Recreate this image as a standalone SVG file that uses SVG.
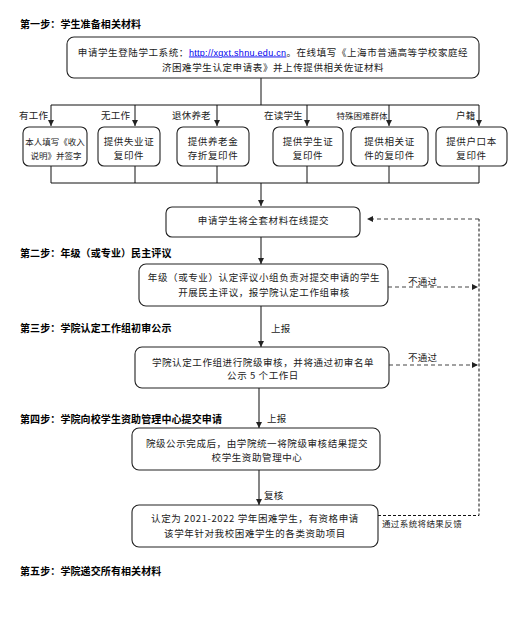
<svg xmlns="http://www.w3.org/2000/svg" width="528" height="618" viewBox="0 0 528 618">
<defs>
<style>
text{font-family:"Noto Sans CJK SC","Noto Sans",sans-serif;fill:#222}
.t{font-size:10px;font-weight:bold;fill:#000;letter-spacing:0.1px}
.b{font-size:9.5px;letter-spacing:0.6px;text-anchor:middle}
.s{font-size:8.5px;text-anchor:middle}
.l{font-size:9.5px;letter-spacing:0.2px}
.u{font-family:"Liberation Sans",Arial,sans-serif;font-size:9px;letter-spacing:0.3px;fill:#0000ee;text-decoration:underline}
.box{fill:#fff;stroke:#222;stroke-width:1.1}
.ln{fill:none;stroke:#111;stroke-width:1}
.ar{fill:none;stroke:#444;stroke-width:1.3}
.dash{fill:none;stroke:#444;stroke-width:1.2;stroke-dasharray:4 3}
.dash2{fill:none;stroke:#111;stroke-width:1;stroke-dasharray:3 2}
</style>
<marker id="ah" viewBox="0 0 6 6" markerWidth="6" markerHeight="6" refX="6" refY="3" orient="auto" markerUnits="userSpaceOnUse"><path d="M0,0L6,3L0,6z" fill="#222"/></marker>
</defs>
<rect width="528" height="618" fill="#fff"/>

<g id="titles">
<text class="t" x="20" y="27.5">第一步：学生准备相关材料</text>
<text class="t" x="20" y="256.5">第二步：年级（或专业）民主评议</text>
<text class="t" x="20" y="332">第三步：学院认定工作组初审公示</text>
<text class="t" x="20" y="422.5">第四步：学院向校学生资助管理中心提交申请</text>
<text class="t" x="20" y="574.5">第五步：学院递交所有相关材料</text>
</g>

<g id="connectors">
<path class="ln" d="M261,78V105M51,105H479"/>
<path class="ln" d="M51,105V126" marker-end="url(#ah)"/>
<path class="ln" d="M135,105V126" marker-end="url(#ah)"/>
<path class="ln" d="M217,105V126" marker-end="url(#ah)"/>
<path class="ln" d="M307,105V126" marker-end="url(#ah)"/>
<path class="ln" d="M389,105V126" marker-end="url(#ah)"/>
<path class="ln" d="M479,105V126" marker-end="url(#ah)"/>
<path class="ln" d="M51,166V183M135,166V183M217,166V183M307,166V183M389,166V183M479,166V183M51,183H479"/>
<path class="ln" d="M261,183V206" marker-end="url(#ah)"/>
<path class="ar" d="M261,237V264" marker-end="url(#ah)"/>
<path class="ar" d="M261,306V347" marker-end="url(#ah)"/>
<path class="ar" d="M259,388V428" marker-end="url(#ah)"/>
<path class="ar" d="M259,470V505" marker-end="url(#ah)"/>
<path class="dash" d="M388,287H478" marker-end="url(#ah)"/>
<path class="dash" d="M389,365H478" marker-end="url(#ah)"/>
<path class="dash2" d="M378,515.5H479V219"/>
<path class="dash" d="M479,219H367" marker-end="url(#ah)"/>
<text class="l" x="19" y="119">有工作</text>
<text class="l" x="101" y="119">无工作</text>
<text class="l" x="172" y="119">退休养老</text>
<text class="l" x="264" y="119">在读学生</text>
<text class="s" x="362" y="119">特殊困难群体</text>
<text class="l" x="456" y="119">户籍</text>
<text class="l" x="271" y="331.5">上报</text>
<text class="l" x="267" y="421.5">上报</text>
<text class="l" x="264" y="498.5">复核</text>
<text class="l" x="408" y="284.5">不通过</text>
<text class="l" x="408" y="360.5">不通过</text>
<text class="s" x="422" y="526.5" style="letter-spacing:0.4px">通过系统将结果反馈</text>
</g>

<g id="n-login">
<rect class="box" x="67" y="37" width="412" height="41" rx="7"/>
<text class="b" x="273" y="55.5">申请学生登陆学工系统：<tspan class="u">http://xgxt.shnu.edu.cn</tspan>。在线填写《上海市普通高等学校家庭经</text>
<text class="b" x="273" y="70.5">济困难学生认定申请表》并上传提供相关佐证材料</text>
</g>

<g id="n-work">
<rect class="box" x="23" y="127" width="64" height="39" rx="6"/>
<text class="s" x="55" y="144.5">本人填写《收入</text>
<text class="s" x="56" y="159">说明》并签字</text>
</g>
<g id="n-nowork">
<rect class="box" x="98" y="127" width="62" height="39" rx="6"/>
<text class="b" x="129" y="144.5">提供失业证</text>
<text class="b" x="129" y="159">复印件</text>
</g>
<g id="n-retire">
<rect class="box" x="177" y="127" width="72" height="39" rx="6"/>
<text class="b" x="213" y="144.5">提供养老金</text>
<text class="b" x="213" y="159">存折复印件</text>
</g>
<g id="n-student">
<rect class="box" x="273" y="127" width="70" height="39" rx="6"/>
<text class="b" x="308" y="144.5">提供学生证</text>
<text class="b" x="308" y="159">复印件</text>
</g>
<g id="n-special">
<rect class="box" x="351" y="127" width="77" height="39" rx="6"/>
<text class="b" x="389.5" y="144.5">提供相关证</text>
<text class="b" x="389.5" y="159">件的复印件</text>
</g>
<g id="n-huji">
<rect class="box" x="436" y="127" width="71" height="39" rx="6"/>
<text class="b" x="471.5" y="144.5">提供户口本</text>
<text class="b" x="471.5" y="159">复印件</text>
</g>

<g id="n-submit">
<rect class="box" x="166" y="207" width="194" height="30" rx="6"/>
<text class="b" x="263.5" y="223.5">申请学生将全套材料在线提交</text>
</g>

<g id="n-grade">
<rect class="box" x="139" y="264" width="249" height="42" rx="7"/>
<text class="b" x="264" y="280.5">年级（或专业）认定评议小组负责对提交申请的学生</text>
<text class="b" x="264" y="295.5">开展民主评议，报学院认定工作组审核</text>
</g>

<g id="n-college">
<rect class="box" x="135" y="347" width="254" height="41" rx="7"/>
<text class="b" x="263" y="365.5">学院认定工作组进行院级审核，并将通过初审名单</text>
<text class="b" x="263" y="379">公示 5 个工作日</text>
</g>

<g id="n-center">
<rect class="box" x="132" y="428" width="248" height="42" rx="7"/>
<text class="b" x="257" y="446.5">院级公示完成后，由学院统一将院级审核结果提交</text>
<text class="b" x="257" y="460.5">校学生资助管理中心</text>
</g>

<g id="n-result">
<rect class="box" x="132" y="505" width="246" height="42" rx="7"/>
<text class="b" x="255" y="521.5">认定为 2021-2022 学年困难学生，有资格申请</text>
<text class="b" x="255" y="536.5">该学年针对我校困难学生的各类资助项目</text>
</g>
</svg>
